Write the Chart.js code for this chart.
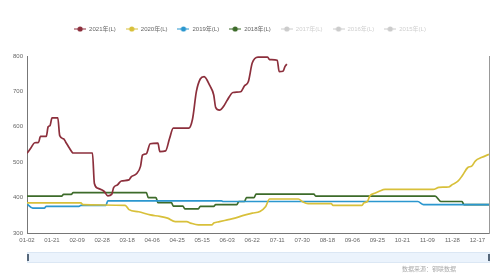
<!DOCTYPE html>
<html>
<head>
<meta charset="utf-8">
<script src="https://cdn.jsdelivr.net/npm/chart.js@4.4.1/dist/chart.umd.min.js"></script>
<style>
  body { margin: 0; background: #fff; }
  #wrap { position: relative; width: 500px; height: 278px; }
  #slider { position: absolute; left: 27px; top: 252px; width: 461px; height: 9px;
            background: #ebf3fc; border: 1px solid #dbe7f4; }
  .handle { position: absolute; top: 1px; width: 2px; height: 7px; background: #56677a; }
  #source { position: absolute; left: 402px; top: 264px; font: 6px "Noto Sans CJK SC", sans-serif; color: #aaa; }
</style>
</head>
<body>
<div id="wrap">
  <canvas id="chart" width="500" height="278"></canvas>
  <div id="slider"><div class="handle" style="left:-1px"></div><div class="handle" style="right:-1px"></div></div>
  <div id="source">数据来源：钢联数据</div>
</div>
<script>
// tick labels every 13 trading days
const tickLabels = ['01-02','01-21','02-09','02-28','03-18','04-06','04-25','05-15','06-03','06-22',
  '07-11','07-30','08-18','09-06','09-25','10-21','11-09','11-28','12-17'];

const seriesNames = ['2021年(L)','2020年(L)','2019年(L)','2018年(L)','2017年(L)','2016年(L)','2015年(L)'];
const seriesColors = ['#8c2f3c','#d8c03a','#2b97cf','#3d6b2a','#cccccc','#cccccc','#cccccc'];

// [trading day index, value]
const y2021 = [[0,525],[2,540],[4,555],[6,556],[7,573],[10,573],[11,600],[12,604],[13,625],[16,625],
  [17,575],[19,566],[20,558],[22,540],[24,526],[34,526],[35,440],[37,426],[40,418],[42,405],[44,409],
  [45,428],[47,436],[49,447],[53,450],[54,458],[57,468],[59,489],[60,520],[62,524],[64,552],[68,554],
  [69,530],[72,532],[74,566],[76,596],[84,596],[86,622],[88,700],[90,735],[92,742],[95,716],[97,690],
  [98,655],[100,647],[102,657],[104,675],[107,697],[111,699],[113,716],[115,728],[117,780],[120,797],
  [125,797],[126,790],[130,788],[131,756],[133,757],[134,770],[135,777]];
const y2020 = [[0,385],[28,385],[29,380],[51,378],[53,366],[58,360],[64,351],[69,347],[73,342],[77,332],
  [83,332],[85,328],[89,323],[96,323],[97,328],[100,332],[104,337],[108,342],[112,349],[117,356],
  [121,361],[124,375],[126,396],[141,396],[143,389],[146,383],[158,383],[159,378],[174,378],[175,385],
  [177,390],[178,404],[181,413],[183,418],[186,423],[211,423],[214,429],[219,430],[221,437],[224,447],
  [226,461],[229,485],[231,489],[233,504],[236,513],[239,520],[240,522]];
const y2019 = [[0,382],[3,370],[9,370],[10,375],[27,375],[28,378],[41,378],[42,391],[101,391],[102,389],
  [203,389],[206,380],[240,380]];
const y2018 = [[0,404],[18,404],[19,409],[23,409],[24,414],[62,414],[63,400],[67,400],[68,386],[75,386],
  [76,376],[81,376],[82,368],[89,368],[90,375],[97,375],[98,380],[109,380],[110,389],[113,389],
  [114,400],[118,400],[119,410],[149,410],[150,404],[212,404],[215,389],[226,389],[227,380],[240,380]];
const seriesData = [y2021, y2020, y2019, y2018, [], [], []];

function marker(color) {
  const c = document.createElement('canvas');
  c.width = 12; c.height = 6;
  const g = c.getContext('2d');
  g.strokeStyle = color; g.fillStyle = color; g.lineWidth = 1;
  g.beginPath(); g.moveTo(0, 3); g.lineTo(12, 3); g.stroke();
  g.beginPath(); g.arc(6, 3, 2.6, 0, Math.PI * 2); g.fill();
  return c;
}

// push the plot area down below the legend
const legendSpace = {
  id: 'legendSpace',
  beforeInit(chart) {
    const fit = chart.legend.fit;
    chart.legend.fit = function () { fit.bind(chart.legend)(); this.height = 40; };
  }
};

new Chart(document.getElementById('chart'), {
  type: 'line',
  data: {
    datasets: seriesNames.map((name, i) => ({
      label: name,
      data: seriesData[i].map(p => ({ x: p[0], y: p[1] })),
      borderColor: seriesColors[i],
      backgroundColor: seriesColors[i],
      borderWidth: 1.7,
      pointRadius: 0,
      cubicInterpolationMode: 'monotone',
      fill: false,
      hidden: i > 3
    }))
  },
  options: {
    responsive: false,
    animation: false,
    layout: { padding: { top: 16, left: 0, right: 0, bottom: 0 } },
    plugins: {
      tooltip: { enabled: false },
      legend: {
        position: 'top',
        labels: {
          usePointStyle: true,
          pointStyleWidth: 12,
          padding: 10,
          font: { size: 6, family: 'Liberation Sans, Noto Sans CJK SC' },
          generateLabels: chart => seriesNames.map((name, i) => ({
            text: name,
            pointStyle: marker(seriesColors[i]),
            fillStyle: seriesColors[i],
            strokeStyle: seriesColors[i],
            fontColor: i > 3 ? '#cfcfcf' : '#666',
            hidden: false,
            lineWidth: 0,
            datasetIndex: i
          }))
        }
      }
    },
    scales: {
      x: {
        type: 'linear', min: 0, max: 240,
        afterBuildTicks: s => { s.ticks = tickLabels.map((_, i) => ({ value: i * 13 })); },
        afterFit: s => { s.height = 45; },
        grid: { display: false, drawTicks: true, tickLength: 3, tickColor: '#777' },
        border: { color: '#777' },
        ticks: {
          autoSkip: false, maxRotation: 0, padding: 1, color: '#666',
          font: { size: 6, family: 'Liberation Sans' },
          callback: v => tickLabels[Math.round(v / 13)]
        }
      },
      y: {
        min: 300, max: 800,
        afterFit: s => { s.width = 27; },
        grid: { display: false, drawTicks: true, tickLength: 3, tickColor: '#777' },
        border: { color: '#777' },
        ticks: { stepSize: 100, padding: 1, color: '#666', font: { size: 6, family: 'Liberation Sans' } }
      },
      y2: {
        position: 'right', min: 300, max: 800,
        afterFit: s => { s.width = 11; },
        grid: { display: false, drawTicks: false },
        border: { color: '#999' },
        ticks: { display: false }
      }
    }
  },
  plugins: [legendSpace]
});
</script>
</body>
</html>
